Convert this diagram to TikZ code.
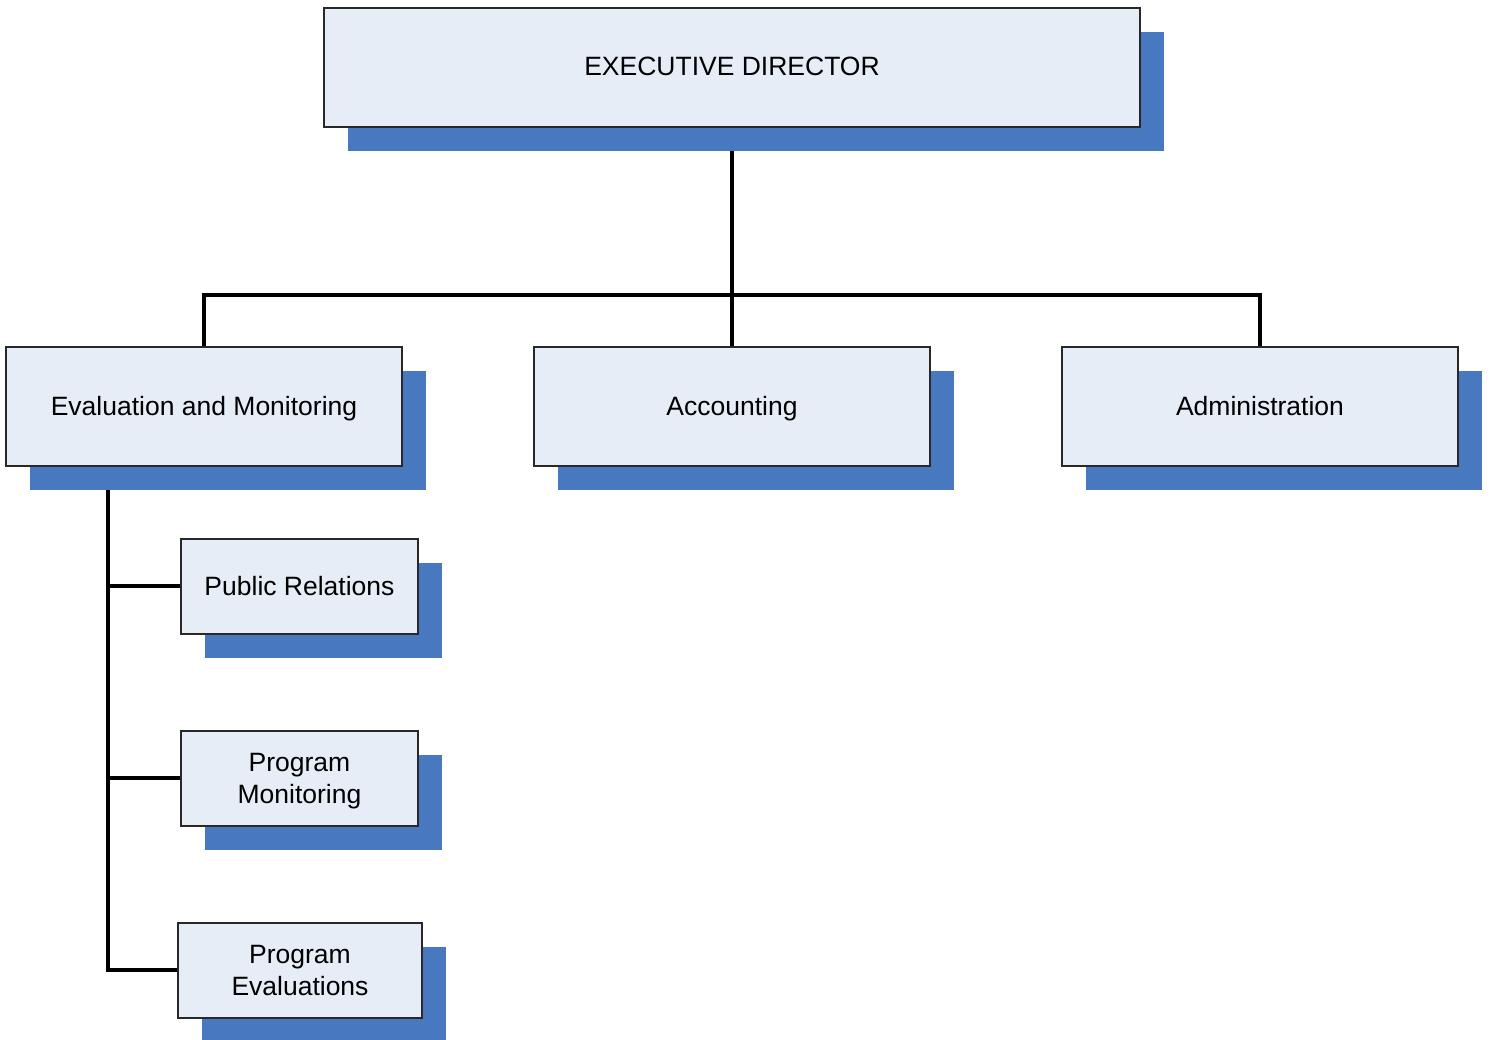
\documentclass[tikz,border=0pt]{standalone}
\usepackage{fontspec}
\setmainfont{Liberation Sans}
\definecolor{boxfill}{RGB}{230,237,247}
\definecolor{shadowblue}{RGB}{72,120,192}
\definecolor{boxedge}{RGB}{40,40,40}
\begin{document}
\begin{tikzpicture}[x=1pt,y=-1pt,
  orgtext/.style={inner sep=0pt, align=center, font=\fontsize{26.5}{32}\selectfont},
  orgbox/.style={orgtext, draw=boxedge, line width=1.2pt, fill=boxfill, text height=19pt, text depth=2pt},
  orgframe/.style={draw=boxedge, line width=1.2pt, fill=boxfill, inner sep=0pt},
  conn/.style={line width=4.5pt, black}]
\useasboundingbox (0,0) rectangle (1491,1040);
% shadows
\fill[shadowblue] (348,32) rectangle (1164,151);
\fill[shadowblue] (30,371) rectangle (426,490);
\fill[shadowblue] (558,371) rectangle (954,490);
\fill[shadowblue] (1086,371) rectangle (1482,490);
\fill[shadowblue] (205,563) rectangle (442,658);
\fill[shadowblue] (205,755) rectangle (442,850);
\fill[shadowblue] (202,947) rectangle (446,1040);
% connectors
\coordinate (hl) at (204,295);
\coordinate (hr) at (1260,295);
\coordinate (vt) at (108,490);
\coordinate (v1) at (108,586);
\coordinate (v2) at (108,778);
\coordinate (v3) at (108,970);
\draw[conn] (732,151) -- (732,347);
\draw[conn] ([xshift=-2.25pt]hl) -- ([xshift=2.25pt]hr);
\draw[conn] (hl) -- (204,347);
\draw[conn] (hr) -- (1260,347);
\draw[conn] (vt) -- ([yshift=2.25pt]v3);
\draw[conn] (v1) -- (181,586);
\draw[conn] (v2) -- (181,778);
\draw[conn] ([xshift=-2.25pt]v3) -- (178,970);
% boxes
\node[orgbox, minimum width=816pt, minimum height=119pt] (ed) at (732,67.5) {EXECUTIVE DIRECTOR};
\node[orgbox, minimum width=396pt, minimum height=119pt] (em) at (204,406.5) {Evaluation and Monitoring};
\node[orgbox, minimum width=396pt, minimum height=119pt] (ac) at (732,406.5) {Accounting};
\node[orgbox, minimum width=396pt, minimum height=119pt] (ad) at (1260,406.5) {Administration};
\node[orgbox, minimum width=237pt, minimum height=95pt] (pr) at (299.5,586.5) {Public Relations};
\node[orgframe, minimum width=237pt, minimum height=95pt] (pm) at (299.5,778.5) {};
\node[orgtext] (pmt) at (299.5,781.5) {Program\\Monitoring};
\node[orgframe, minimum width=244pt, minimum height=95pt] (pe) at (300,970.5) {};
\node[orgtext] (pet) at (300,970.5) {Program\\Evaluations};
\end{tikzpicture}
\end{document}
